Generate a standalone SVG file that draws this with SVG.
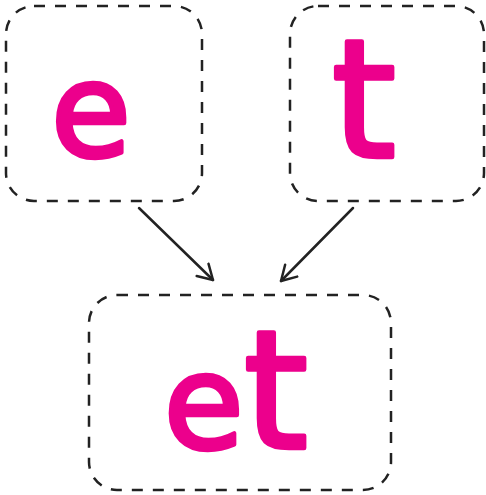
<svg xmlns="http://www.w3.org/2000/svg" width="486" height="495" viewBox="0 0 486 495">
<style>
.box{fill:none;stroke:#222;stroke-width:2.5;stroke-dasharray:11 10}
.lt{font-family:"DejaVu Sans",sans-serif;fill:#EC008C;stroke:#EC008C;stroke-width:4.5;stroke-linejoin:round;text-anchor:middle}
.e{font-size:130px}
.t{font-size:164px}
.edge{fill:none;stroke:#222;stroke-width:2.5;stroke-linecap:round;stroke-linejoin:round}
</style>
<defs>
<marker id="ah" markerWidth="22" markerHeight="22" refX="16" refY="9.5" orient="auto" markerUnits="userSpaceOnUse" viewBox="0 0 22 19">
<path d="M1.5,1 L16,9.5 L1.5,18" fill="none" stroke="#222" stroke-width="2.5" stroke-linecap="round" stroke-linejoin="round"/>
</marker>
</defs>
<g id="node-e">
<rect class="box" x="6" y="6" width="196" height="195" rx="28"/>
<text class="lt e" x="91" y="156">e</text>
</g>
<g id="node-t">
<rect class="box" x="290" y="6" width="194" height="195" rx="28"/>
<text class="lt t" x="364" y="157">t</text>
</g>
<g id="node-et">
<rect class="box" x="89" y="295" width="302" height="195" rx="28"/>
<text class="lt" x="236" y="448"><tspan class="e">e</tspan><tspan class="t">t</tspan></text>
</g>
<g id="connectors">
<path class="edge" d="M139,208 L213,280" marker-end="url(#ah)"/>
<path class="edge" d="M353,208 L281,281" marker-end="url(#ah)"/>
</g>
</svg>
